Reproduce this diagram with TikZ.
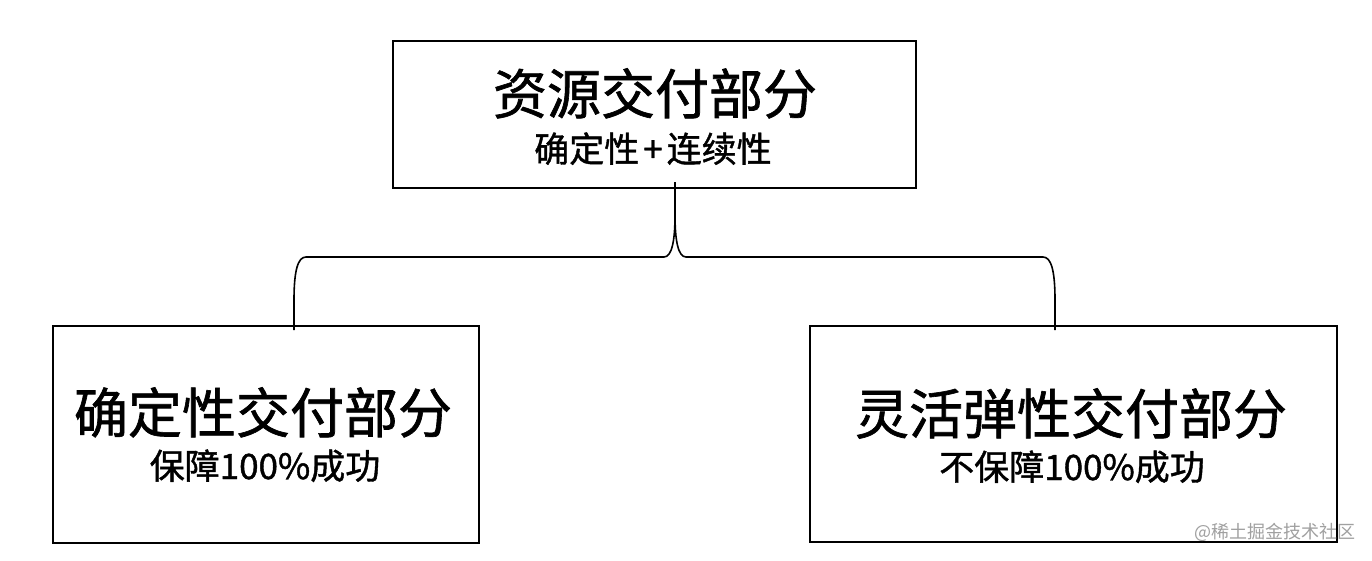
\documentclass[tikz,border=0pt]{standalone}
\usepackage{fontspec}
\setmainfont{Noto Sans CJK SC}
\newfontfamily\boldcjk{Noto Sans CJK SC}[FakeBold=1.2]
\definecolor{wm}{HTML}{A0A0A0}
\begin{document}
\begin{tikzpicture}[x=1pt,y=-1pt,
  box/.style={draw=black,line width=2pt,rectangle,inner sep=0pt},
  big/.style={anchor=base,inner sep=0pt,font=\boldcjk\fontsize{54}{60}\selectfont},
  small/.style={anchor=base,inner sep=0pt,font=\boldcjk\fontsize{35}{40}\selectfont},
  brace/.style={draw=black,line width=1.6pt}]
\useasboundingbox[fill=white] (0,0) rectangle (1372,560);
\node[box,minimum width=523pt,minimum height=147pt] (top) at (654.5,114.5) {};
\node[box,minimum width=426pt,minimum height=217pt] (left) at (266,434.5) {};
\node[box,minimum width=527pt,minimum height=216pt] (right) at (1073.5,434) {};
\node[big] (t1) at (655,114) {资源交付部分};
\node[small] (t2) at (653,162) {确定性\hspace{4pt}+\hspace{4pt}连续性};
\node[big] (l1) at (263,433) {确定性交付部分};
\node[small] (l2) at (265,479) {保障100\%成功};
\node[big] (r1) at (1071,434) {灵活弹性交付部分};
\node[small] (r2) at (1072,480) {不保障100\%成功};
\node[anchor=base,inner sep=0pt,text=wm,font=\fontsize{18}{20}\selectfont] (wmk) at (1275,538) {@稀土掘金技术社区};
\coordinate (tip) at (675,182);
\coordinate (lend) at (294,330);
\coordinate (rend) at (1055,330);
\draw[brace] (tip) -- (675,215) .. controls (675,240) and (672,257) .. (664,257)
  -- (306,257) .. controls (298,257) and (294,270) .. (294,300) -- (lend);
\draw[brace] (675,215) .. controls (675,240) and (678,257) .. (686,257)
  -- (1043,257) .. controls (1051,257) and (1055,270) .. (1055,300) -- (rend);
\end{tikzpicture}
\end{document}
